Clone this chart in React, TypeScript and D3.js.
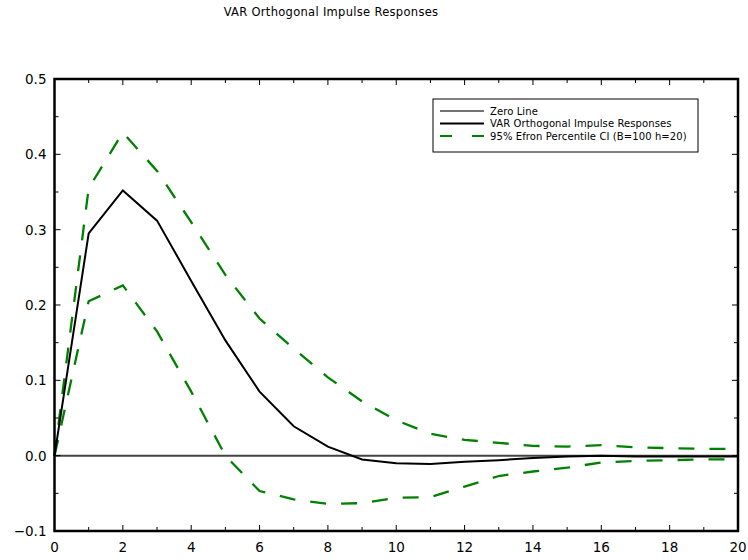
import React from "react";
import * as d3 from "d3";

const horizons = d3.range(0, 21);
const impulse = [0, 0.295, 0.352, 0.312, 0.232, 0.153, 0.085, 0.039, 0.012, -0.005, -0.010, -0.011, -0.008, -0.006, -0.003, -0.001, 0.0, -0.001, -0.001, -0.001, -0.001];
const upperCI = [0, 0.355, 0.429, 0.378, 0.31, 0.24, 0.182, 0.142, 0.104, 0.072, 0.047, 0.029, 0.021, 0.017, 0.013, 0.012, 0.014, 0.011, 0.010, 0.009, 0.009];
const lowerCI = [0, 0.205, 0.226, 0.165, 0.085, 0.0, -0.047, -0.058, -0.064, -0.063, -0.056, -0.055, -0.041, -0.027, -0.021, -0.016, -0.009, -0.007, -0.006, -0.005, -0.005];
const yTicks = [-0.1, 0.0, 0.1, 0.2, 0.3, 0.4, 0.5];
const xTicks = d3.range(0, 21, 2);
const legendLabels = ["Zero Line", "VAR Orthogonal Impulse Responses", "95% Efron Percentile CI (B=100 h=20)"];
const title = "VAR Orthogonal Impulse Responses";

export default function App() {
  const W = 748, H = 560;
  const L = 54.5, R = 738, T = 79, B = 531;
  const x = d3.scaleLinear().domain([0, 20]).range([L, R]);
  const y = d3.scaleLinear().domain([-0.1, 0.5]).range([B, T]);
  const line = d3.line<number>().x((_, i) => x(horizons[i])).y((d) => y(d));
  const font = "'DejaVu Sans', sans-serif";
  const green = "#008000";
  const minorX = d3.range(0, 21);
  const minorY = d3.range(-0.1, 0.5001, 0.05);
  return (
    <svg width={W} height={H} style={{ position: "absolute", left: 0, top: 0, background: "#fff" }}>
      <text x={331} y={16} fontFamily={font} fontSize={11.5} letterSpacing={0.3} textAnchor="middle" fill="#000">{title}</text>
      {/* zero line */}
      <line x1={x(0)} x2={x(20)} y1={y(0)} y2={y(0)} stroke="#444" strokeWidth={2} />
      <path d={line(upperCI) || ""} fill="none" stroke={green} strokeWidth={2.3} strokeDasharray="16,15" />
      <path d={line(lowerCI) || ""} fill="none" stroke={green} strokeWidth={2.3} strokeDasharray="16,15" />
      <path d={line(impulse) || ""} fill="none" stroke="#000" strokeWidth={2} />
      {/* ticks */}
      {minorX.map((v) => (
        <g key={"xt" + v}>
          <line x1={x(v)} x2={x(v)} y1={B} y2={B - (v % 2 === 0 ? 6 : 4)} stroke="#000" strokeWidth={1} />
          <line x1={x(v)} x2={x(v)} y1={T} y2={T + (v % 2 === 0 ? 6 : 4)} stroke="#000" strokeWidth={1} />
        </g>
      ))}
      {minorY.map((v, i) => (
        <g key={"yt" + i}>
          <line x1={L} x2={L + (i % 2 === 0 ? 6 : 4)} y1={y(v)} y2={y(v)} stroke="#000" strokeWidth={1} />
          <line x1={R} x2={R - (i % 2 === 0 ? 6 : 4)} y1={y(v)} y2={y(v)} stroke="#000" strokeWidth={1} />
        </g>
      ))}
      <rect x={L} y={T} width={R - L} height={B - T} fill="none" stroke="#000" strokeWidth={2.5} />
      {yTicks.map((v) => (
        <text key={"yl" + v} x={L - 8} y={y(v) + 5} fontFamily={font} fontSize={13.5} textAnchor="end" fill="#000">
          {v < 0 ? "\u2212" + Math.abs(v).toFixed(1) : v.toFixed(1)}
        </text>
      ))}
      {xTicks.map((v) => (
        <text key={"xl" + v} x={x(v)} y={B + 21} fontFamily={font} fontSize={13.5} textAnchor="middle" fill="#000">{v}</text>
      ))}
      {/* legend */}
      <rect x={433} y={99} width={265} height={53} fill="#fff" stroke="#000" strokeWidth={1} />
      {legendLabels.map((lab, i) => {
        const ly = 111 + i * 12.5;
        return (
          <g key={lab}>
            {i === 2 ? (
              <line x1={440} x2={484} y1={ly} y2={ly} stroke={green} strokeWidth={2} strokeDasharray="12,20" />
            ) : (
              <line x1={440} x2={484} y1={ly} y2={ly} stroke={i === 0 ? "#444" : "#000"} strokeWidth={i === 0 ? 1.5 : 2} />
            )}
            <text x={490} y={ly + 3.5} fontFamily={font} fontSize={10} letterSpacing={0.1} fill="#000">{lab}</text>
          </g>
        );
      })}
    </svg>
  );
}
